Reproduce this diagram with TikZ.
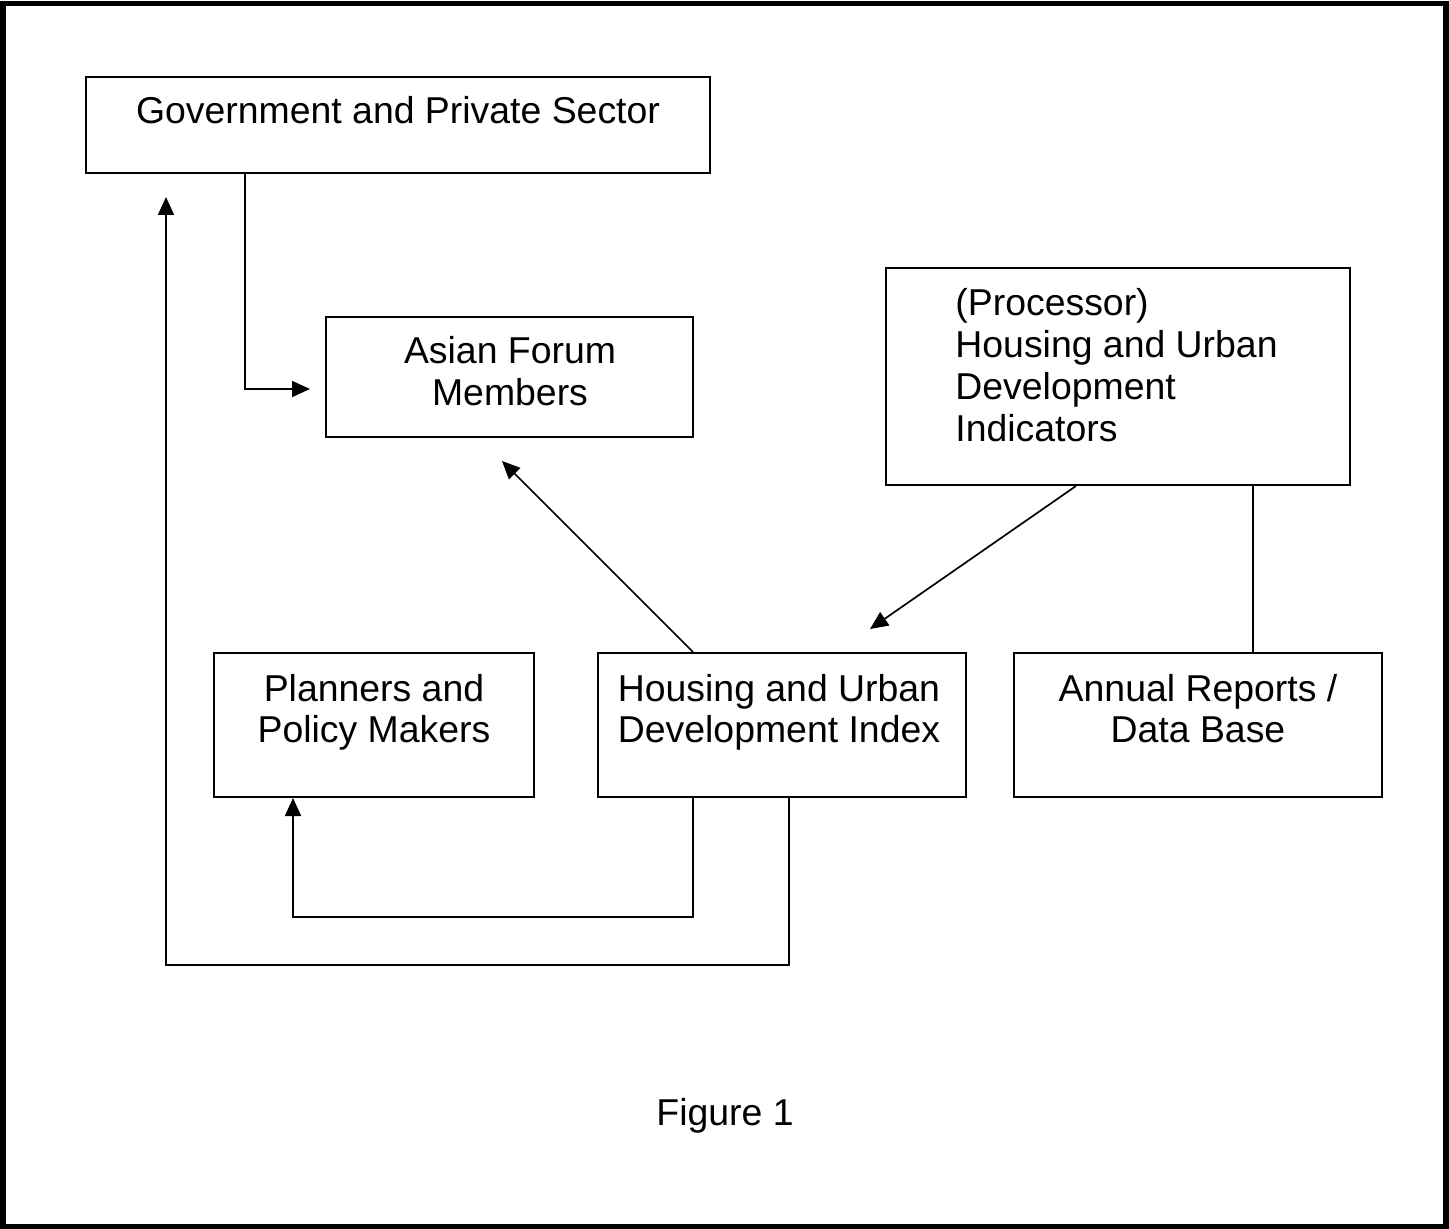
\documentclass[tikz,border=0pt]{standalone}
\usepackage{fontspec}
\setmainfont{Liberation Sans}
\usetikzlibrary{arrows.meta}
\begin{document}
\begin{tikzpicture}[x=0.5pt,y=-0.5pt,
  box/.style={draw,line width=1pt,inner sep=0pt,rectangle},
  txt/.style={inner sep=0pt,font=\fontsize{18.7pt}{20.9pt}\selectfont},
  conn/.style={line width=0.85pt},
  arr/.style={conn,-{Triangle[length=9pt,width=8pt]}},
  frame/.style={draw,line width=2.6pt}]
\useasboundingbox (0,0) rectangle (1449,1229);
\draw[frame] (3,3.5) rectangle (1446,1227);
% boxes
\node[box,minimum width=312pt,minimum height=48pt] (gov) at (398,125) {};
\node[box,minimum width=183.5pt,minimum height=60pt] (asian) at (509.5,377) {};
\node[box,minimum width=232pt,minimum height=108.5pt] (proc) at (1118,376.5) {};
\node[box,minimum width=160pt,minimum height=72pt] (plan) at (374,725) {};
\node[box,minimum width=184pt,minimum height=72pt] (hud) at (782,725) {};
\node[box,minimum width=184pt,minimum height=72pt] (annual) at (1198,725) {};
% texts
\node[txt,anchor=base] (govt) at (398,124) {Government and Private Sector};
\node[txt,anchor=base] (asiant) at (510,364) {\begin{tabular}[t]{@{}c@{}}Asian Forum\\Members\end{tabular}};
\node[txt,anchor=base west] (proct) at (955,316) {\begin{tabular}[t]{@{}l@{}}(Processor)\\Housing and Urban\\Development\\Indicators\end{tabular}};
\node[txt,anchor=base] (plant) at (374,701) {\begin{tabular}[t]{@{}c@{}}Planners and\\Policy Makers\end{tabular}};
\node[txt,anchor=base] (hudt) at (779,701) {\begin{tabular}[t]{@{}c@{}}Housing and Urban\\Development Index\end{tabular}};
\node[txt,anchor=base] (annualt) at (1198,701) {\begin{tabular}[t]{@{}c@{}}Annual Reports /\\Data Base\end{tabular}};
\node[txt,anchor=base] (fig) at (725,1125) {Figure 1};
% free ends
\coordinate (tipA) at (310,389);
\coordinate (tipB) at (166,197);
\coordinate (tipC) at (502,461);
\coordinate (tipD) at (870,629);
\coordinate (botline) at (0,965);
% connectors
\draw[arr] ([xshift=80pt]gov.south west) |- (tipA);
\draw[arr] ([xshift=96pt]hud.south west) coordinate (s1) -- (s1 |- botline) -| (tipB);
\draw[arr] ([xshift=48pt]hud.south west) -- ++(0,119) -| ([xshift=40pt]plan.south west);
\draw[arr] ([xshift=48pt]hud.north west) -- (tipC);
\draw[arr] ([xshift=95.5pt]proc.south west) -- (tipD);
\draw[conn] ([xshift=184pt]proc.south west) coordinate (s2) -- (s2 |- annual.north);
\end{tikzpicture}
\end{document}
